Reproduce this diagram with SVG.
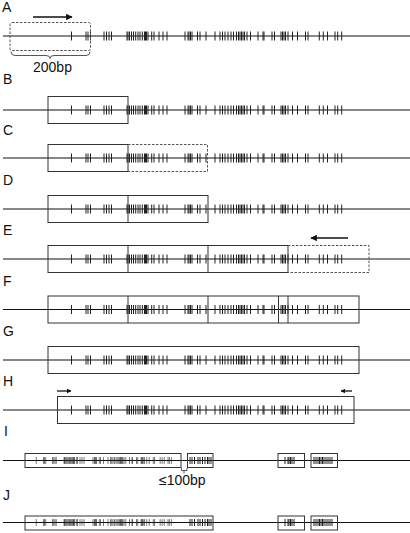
<svg xmlns="http://www.w3.org/2000/svg" xmlns:xlink="http://www.w3.org/1999/xlink" width="410" height="533" viewBox="0 0 410 533">
<style>
.lbl{font-family:"Liberation Sans",Arial,sans-serif;font-size:14px;fill:#111}
.ln{stroke:#111;stroke-width:1.1;fill:none}
.tk{stroke:#222;stroke-width:1;fill:none}
.tks{stroke:#222;stroke-width:1;fill:none}
.bx{fill:none;stroke:#333;stroke-width:1}
.dbx{fill:none;stroke:#555;stroke-width:1;stroke-dasharray:2.5,1.5}
.ar{stroke:#111;stroke-width:1.3;fill:none}
.brace{fill:none;stroke:#555;stroke-width:1}
</style>
<defs>
<path id="t" class="tk" d="M71.5-4.5v9M86-4.5v9M88-4.5v9M90.5-4.5v9M104-4.5v9M106.5-4.5v9M109-4.5v9M111.5-4.5v9M127-4.5v9M128-4.5v9M129.5-4.5v9M131.5-4.5v9M133.5-4.5v9M135.7-4.5v9M138-4.5v9M140-4.5v9M142.3-4.5v9M144.5-4.5v9M145.5-4.5v9M146.5-4.5v9M148-4.5v9M151.7-4.5v9M154-4.5v9M159-4.5v9M163-4.5v9M167-4.5v9M185-4.5v9M188-4.5v9M189-4.5v9M190.5-4.5v9M192-4.5v9M197.5-4.5v9M200-4.5v9M206-4.5v9M215-4.5v9M220-4.5v9M222.5-4.5v9M225-4.5v9M228-4.5v9M231-4.5v9M233.5-4.5v9M236.5-4.5v9M238.5-4.5v9M240-4.5v9M241.5-4.5v9M243-4.5v9M244.5-4.5v9M247-4.5v9M250.5-4.5v9M258-4.5v9M263-4.5v9M264-4.5v9M272-4.5v9M274.5-4.5v9M281-4.5v9M282.5-4.5v9M284-4.5v9M285.5-4.5v9M288-4.5v9M292.5-4.5v9M297.5-4.5v9M305.5-4.5v9M308-4.5v9M319.3-4.5v9M323.3-4.5v9M327.5-4.5v9M335-4.5v9M337.7-4.5v9M341.7-4.5v9"/>
<path id="ts" class="tks" d="M190-3.5v7M192-3.5v7M194.5-3.5v7M198-3.5v7M200-3.5v7M202.5-3.5v7M205-3.5v7M207.5-3.5v7M209-3.5v7M211-3.5v7M285-3.5v7M288-3.5v7M289-3.5v7M290.5-3.5v7M292-3.5v7M294-3.5v7M314-3.5v7M316-3.5v7M318-3.5v7M319.5-3.5v7M321-3.5v7M322.5-3.5v7M324-3.5v7M326-3.5v7M328-3.5v7M330-3.5v7M332-3.5v7"/>
<marker id="ah" viewBox="0 0 10 10" refX="9" refY="5" markerWidth="5" markerHeight="5" orient="auto" markerUnits="strokeWidth"><path d="M0,0L10,5L0,10z" fill="#111"/></marker>
<marker id="ahs" viewBox="0 0 10 10" refX="9" refY="5" markerWidth="3.5" markerHeight="3.5" orient="auto" markerUnits="strokeWidth"><path d="M0,0L10,5L0,10z" fill="#111"/></marker>
</defs>

<g id="rowA">
<text class="lbl" x="2" y="12">A</text>
<line class="ln" x1="3" y1="36" x2="410" y2="36"/>
<use xlink:href="#t" transform="translate(0,36)"/>
<rect class="dbx" x="10" y="22.5" width="80.5" height="28" rx="2"/>
<path class="brace" d="M11,51.5q0,4 4,4H46q4,0 4,3q0,-3 4,-3H86q4,0 4,-4"/>
<text class="lbl" x="33" y="72">200bp</text>
</g>

<g id="rowB">
<text class="lbl" x="3" y="84">B</text>
<line class="ln" x1="3" y1="110" x2="410" y2="110"/>
<use xlink:href="#t" transform="translate(0,110)"/>
<rect class="bx" x="48" y="96.5" width="80" height="27"/>
</g>

<g id="rowC">
<text class="lbl" x="3" y="135">C</text>
<line class="ln" x1="3" y1="158" x2="410" y2="158"/>
<use xlink:href="#t" transform="translate(0,158)"/>
<rect class="bx" x="48" y="144.5" width="80" height="27"/>
<path class="dbx" d="M128,144.5H207.5V171.5H128"/>
</g>

<g id="rowD">
<text class="lbl" x="3" y="185">D</text>
<line class="ln" x1="3" y1="209" x2="410" y2="209"/>
<use xlink:href="#t" transform="translate(0,209)"/>
<rect class="bx" x="48" y="195.5" width="160" height="27"/>
<line class="bx" x1="128" y1="195.5" x2="128" y2="222.5"/>
</g>

<g id="rowE">
<text class="lbl" x="3" y="235">E</text>
<line class="ln" x1="3" y1="259" x2="410" y2="259"/>
<use xlink:href="#t" transform="translate(0,259)"/>
<rect class="bx" x="48" y="245.5" width="240" height="27"/>
<line class="bx" x1="128" y1="245.5" x2="128" y2="272.5"/>
<line class="bx" x1="208" y1="245.5" x2="208" y2="272.5"/>
<path class="dbx" d="M288,245.5H369V272.5H288"/>
</g>

<g id="rowF">
<text class="lbl" x="3" y="286">F</text>
<line class="ln" x1="3" y1="309.5" x2="410" y2="309.5"/>
<use xlink:href="#t" transform="translate(0,309.5)"/>
<rect class="bx" x="48" y="296" width="311" height="27"/>
<line class="bx" x1="128" y1="296" x2="128" y2="323"/>
<line class="bx" x1="208" y1="296" x2="208" y2="323"/>
<line class="bx" x1="278.5" y1="296" x2="278.5" y2="323"/>
<line class="bx" x1="288" y1="296" x2="288" y2="323"/>
</g>

<g id="rowG">
<text class="lbl" x="3" y="336">G</text>
<line class="ln" x1="3" y1="360" x2="410" y2="360"/>
<use xlink:href="#t" transform="translate(0,360)"/>
<rect class="bx" x="48" y="346.5" width="311" height="27"/>
</g>

<g id="rowH">
<text class="lbl" x="3" y="386">H</text>
<line class="ln" x1="3" y1="410" x2="410" y2="410"/>
<use xlink:href="#t" transform="translate(0,410)"/>
<rect class="bx" x="57.5" y="396.5" width="296.5" height="27"/>
</g>

<g id="rowI">
<text class="lbl" x="4" y="436">I</text>
<line class="ln" x1="3" y1="460.5" x2="410" y2="460.5"/>
<use xlink:href="#t" transform="translate(0.5,460.5) scale(0.5,0.75)"/>
<use xlink:href="#ts" transform="translate(0,460.5)"/>
<rect class="bx" x="25" y="453.5" width="156" height="14"/>
<rect class="bx" x="187.5" y="453.5" width="25.5" height="14"/>
<rect class="bx" x="278" y="453.5" width="26.5" height="14"/>
<rect class="bx" x="311" y="453.5" width="26.5" height="14"/>
<path class="brace" d="M181.5,468v2.5h2.5v3M184,470.5h3v-2.5"/>
<text class="lbl" x="159" y="485">≤100bp</text>
</g>

<g id="rowJ">
<text class="lbl" x="3" y="500">J</text>
<line class="ln" x1="3" y1="522.5" x2="410" y2="522.5"/>
<use xlink:href="#t" transform="translate(0.5,522.5) scale(0.5,0.75)"/>
<use xlink:href="#ts" transform="translate(0,522.5)"/>
<rect class="bx" x="25" y="516" width="188" height="14"/>
<rect class="bx" x="278" y="516" width="26.5" height="14"/>
<rect class="bx" x="311" y="516" width="26.5" height="14"/>
</g>

<g id="connectors">
<line class="ar" x1="33" y1="17" x2="72" y2="17" marker-end="url(#ah)"/>
<line class="ar" x1="348" y1="238" x2="311" y2="238" marker-end="url(#ah)"/>
<line class="ar" x1="57" y1="391" x2="71" y2="391" marker-end="url(#ahs)"/>
<line class="ar" x1="352" y1="391" x2="341" y2="391" marker-end="url(#ahs)"/>
</g>
</svg>
